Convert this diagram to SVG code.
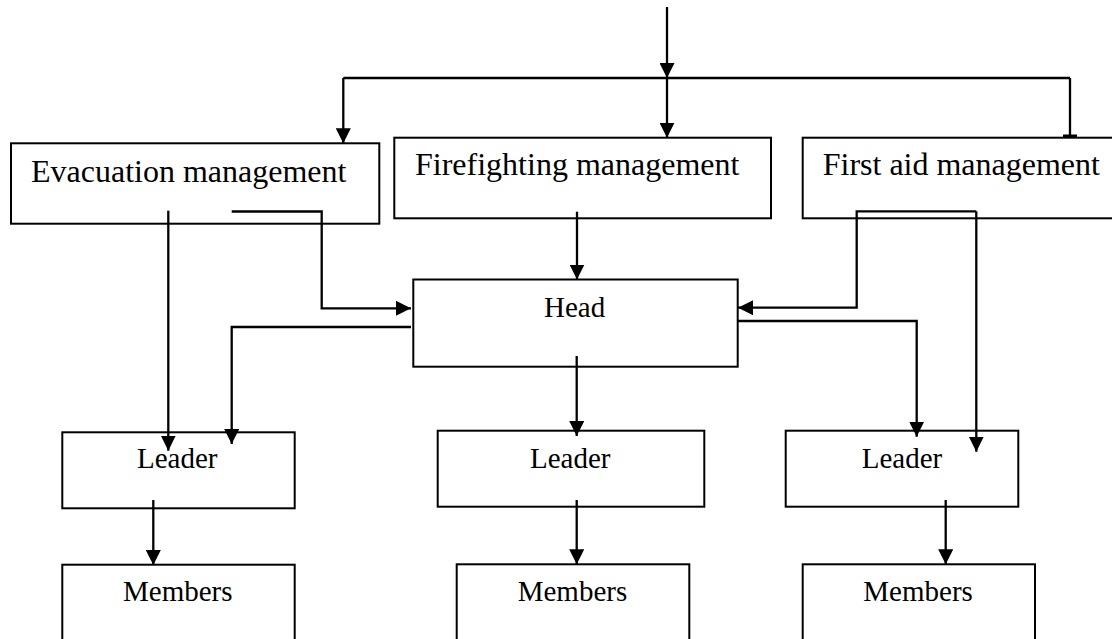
<svg xmlns="http://www.w3.org/2000/svg" width="1112" height="639" viewBox="0 0 1112 639">
<style>
.box{fill:#fff;stroke:#000;stroke-width:2}
.t32{font-family:"Liberation Serif","Times New Roman",serif;font-size:32px;fill:#000}
.t29{font-family:"Liberation Serif","Times New Roman",serif;font-size:29px;fill:#000}
.c{fill:none;stroke:#000;stroke-width:2.3}
.a{marker-end:url(#arr)}
</style>
<defs>
<marker id="arr" viewBox="0 0 15 15" refX="15" refY="7.5" markerWidth="15" markerHeight="15" markerUnits="userSpaceOnUse" orient="auto">
<path d="M0,0 L15,7.5 L0,15 z" fill="#000"/>
</marker>
</defs>
<g id="evacuation">
<rect class="box" x="11" y="143.3" width="368.3" height="80.4"/>
<text class="t32" x="31" y="182">Evacuation management</text>
</g>
<g id="firefighting">
<rect class="box" x="394.3" y="137.7" width="376.7" height="80.6"/>
<text class="t32" x="415" y="175">Firefighting management</text>
</g>
<g id="firstaid">
<rect class="box" x="802.7" y="137.7" width="312" height="80.6"/>
<text class="t32" x="822.7" y="175">First aid management</text>
</g>
<g id="head">
<rect class="box" x="413.3" y="279.5" width="324.4" height="87.2"/>
<text class="t29" x="544" y="316.7">Head</text>
</g>
<g id="leader1">
<rect class="box" x="62.3" y="432.3" width="232.4" height="76"/>
<text class="t29" x="137" y="468.3">Leader</text>
</g>
<g id="leader2">
<rect class="box" x="437.7" y="430.7" width="266.6" height="76"/>
<text class="t29" x="530" y="468.3">Leader</text>
</g>
<g id="leader3">
<rect class="box" x="785.7" y="430.7" width="232.6" height="76"/>
<text class="t29" x="861.7" y="468.3">Leader</text>
</g>
<g id="members1">
<rect class="box" x="62.3" y="564.7" width="232.4" height="90"/>
<text class="t29" x="123" y="601">Members</text>
</g>
<g id="members2">
<rect class="box" x="456.7" y="564.3" width="232.6" height="90"/>
<text class="t29" x="517.7" y="601">Members</text>
</g>
<g id="members3">
<rect class="box" x="802.7" y="564.3" width="232.3" height="90"/>
<text class="t29" x="863.3" y="601">Members</text>
</g>
<g id="connectors">
<path class="c a" d="M667,7 V78"/>
<path class="c" d="M343.3,78 H1070"/>
<path class="c a" d="M343.3,78 V143.3"/>
<path class="c a" d="M667,78 V137.7"/>
<path class="c" d="M1070,78 V137.7"/>
<rect x="1063" y="134.5" width="14" height="3.5" fill="#000"/>
<path class="c a" d="M168.3,210.7 V450.7"/>
<path class="c a" d="M231.7,211.5 H321.7 V308.3 H411"/>
<path class="c a" d="M411,327 H231.7 V444"/>
<path class="c a" d="M577,211.7 V279.5"/>
<path class="c a" d="M576.7,356 V436"/>
<path class="c a" d="M976.3,211.3 H856.7 V307.7 H738"/>
<path class="c a" d="M976.3,211.3 V451.7"/>
<path class="c a" d="M738,321 H916.7 V436.7"/>
<path class="c a" d="M153.3,500 V565"/>
<path class="c a" d="M576.7,500 V564.3"/>
<path class="c a" d="M945.7,500 V564.3"/>
</g>
</svg>
